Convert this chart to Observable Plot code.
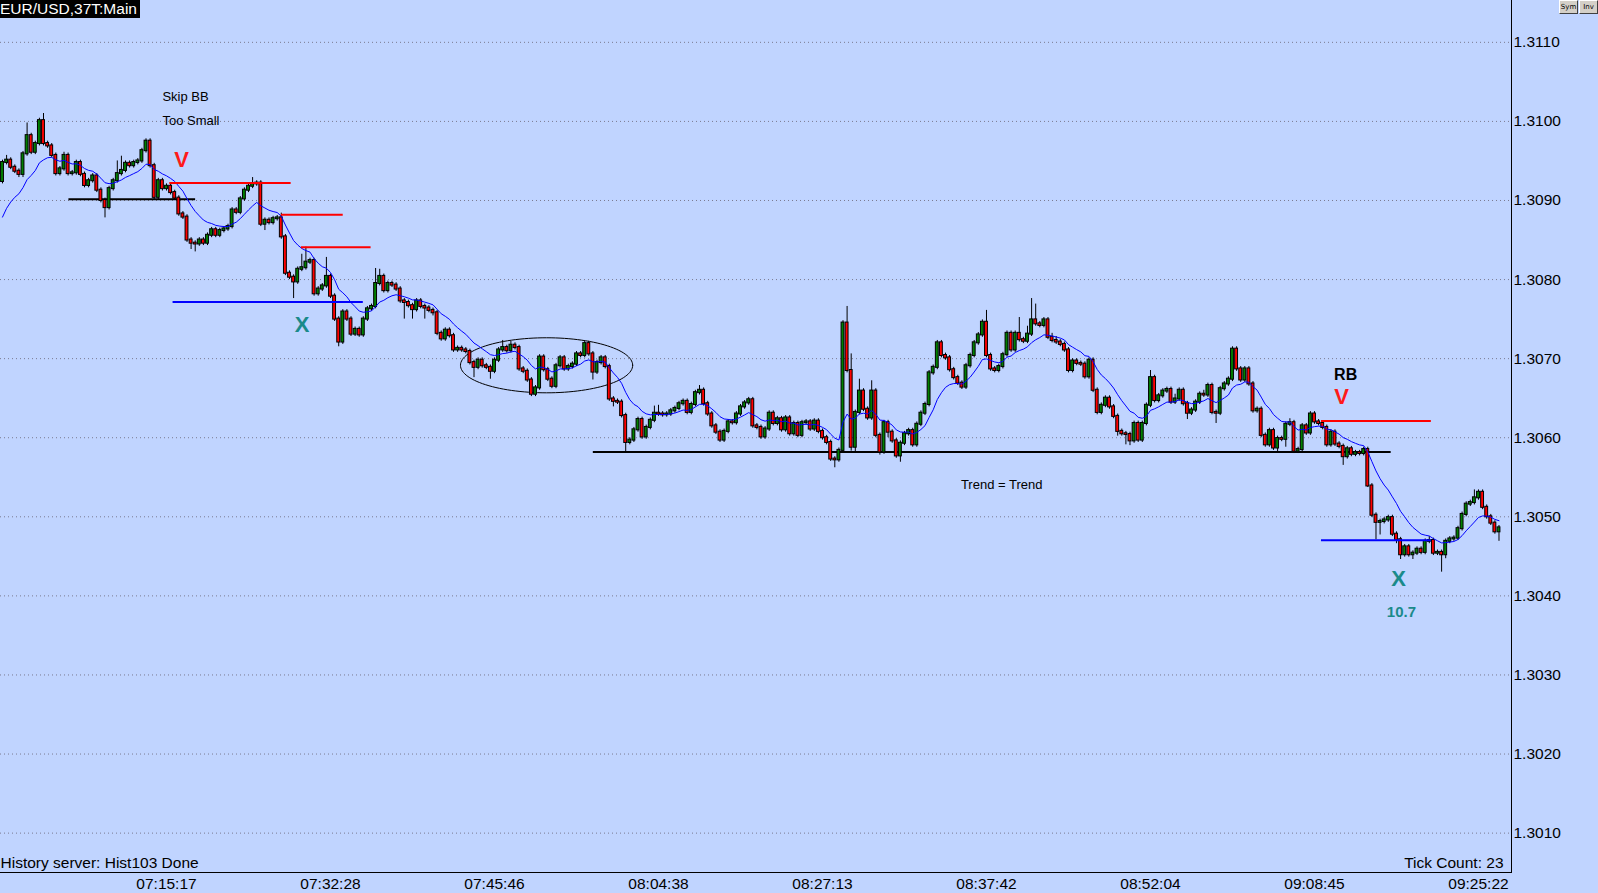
<!DOCTYPE html>
<html>
<head>
<meta charset="utf-8">
<script src="https://cdn.jsdelivr.net/npm/d3@7"></script>
<script src="https://cdn.jsdelivr.net/npm/@observablehq/plot@0.6"></script>
<style>
  html, body { margin: 0; padding: 0; background: #c0d4ff; overflow: hidden; }
  #wrap { position: relative; width: 1598px; height: 893px; }
  #chart svg { display: block; }
  #title { position: absolute; left: 0; top: 0; background: #000; color: #fff;
           font: 15.5px "Liberation Sans", Arial, sans-serif; line-height: 18px; padding: 0 3px 0 0; white-space: nowrap; }
  .btn { position: absolute; top: 0; width: 17px; height: 12px; background: #d4d0c8;
         border-top: 1px solid #fff; border-left: 1px solid #fff; border-right: 1px solid #404040; border-bottom: 1px solid #404040;
         font: 7px "DejaVu Sans", sans-serif; line-height: 12px; text-align: center; color: #000; }
</style>
</head>
<body>
<div id="wrap">
  <div id="chart"></div>
  <div id="title">EUR/USD,37T:Main</div>
  <div class="btn" style="left:1559px">Sym</div>
  <div class="btn" style="left:1579px">Inv</div>
</div>
<script>
// ---------------- data (prices stored as pips above 1.3000) ----------------
const base = 1.3;
const pip = 0.0001;
const firstOpen = 92.4;
const closes = [
  94.8,95.1,94.2,93.7,93.3,95.9,98.2,96.1,97.2,100.1,
  97.2,96.9,95.7,93.4,94.0,95.7,93.4,93.5,94.8,93.3,
  91.9,92.5,93.1,91.3,90.0,89.1,91.5,92.5,93.4,93.8,
  94.7,94.4,94.8,95.0,96.3,97.5,94.4,90.4,92.5,91.5,
  91.8,91.0,90.3,88.3,87.9,85.0,84.6,84.5,85.0,84.6,
  85.6,86.3,85.6,86.2,86.4,86.7,88.8,88.5,90.2,91.3,
  91.8,92.1,92.2,87.0,87.5,87.2,87.7,87.8,85.4,80.8,
  80.3,79.7,81.3,81.5,82.2,82.4,78.2,78.8,79.2,80.4,
  77.9,75.0,72.1,75.9,75.0,73.1,73.7,73.0,75.0,76.3,
  76.6,79.5,80.4,78.6,79.5,79.3,78.8,77.3,77.1,76.7,
  76.2,77.3,76.6,76.4,76.1,75.8,73.2,72.5,73.6,72.9,
  71.1,71.3,71.1,70.9,69.5,68.9,69.8,69.1,68.9,68.4,
  69.8,71.1,71.4,71.0,71.7,71.4,68.7,68.4,67.3,65.5,
  66.3,70.2,68.6,67.4,66.5,69.1,70.1,68.7,69.0,69.3,
  70.6,70.4,71.9,70.6,68.3,69.5,70.1,69.0,64.9,64.6,
  64.5,62.8,59.4,59.7,61.0,62.3,60.1,61.3,62.2,63.1,
  63.0,62.9,63.0,63.4,63.7,64.3,64.6,63.2,64.2,65.7,
  66.0,64.3,63.0,61.5,60.7,59.7,60.8,62.0,61.9,63.0,
  63.9,64.4,64.8,61.5,61.3,60.1,61.1,63.1,61.8,62.4,
  61.0,62.5,60.5,61.8,60.3,61.9,62.0,61.1,62.1,60.8,
  60.0,59.4,57.3,57.2,58.4,74.5,68.5,58.8,63.2,65.9,
  63.6,62.5,65.9,60.3,58.2,61.9,60.7,59.6,57.7,59.3,
  60.5,60.9,59.1,61.7,63.1,64.2,68.2,68.9,72.0,70.4,
  70.1,68.6,67.6,66.9,66.4,69.1,70.4,72.0,73.0,74.6,
  70.4,68.7,68.5,69.0,70.5,73.2,71.1,73.2,72.4,72.2,
  73.1,74.9,74.4,74.2,74.9,72.7,72.3,72.1,71.8,71.1,
  68.5,69.7,69.4,69.3,67.7,69.8,66.0,63.2,64.1,65.0,
  63.9,62.7,60.8,60.5,60.4,59.6,61.8,59.7,61.8,64.1,
  67.6,64.7,65.3,65.9,66.1,64.5,64.9,66.0,64.3,63.1,
  63.5,64.5,65.5,65.4,66.6,63.2,63.1,66.2,66.8,67.4,
  71.2,68.7,67.3,68.7,66.8,63.4,63.6,60.3,59.1,60.9,
  58.7,59.9,59.8,61.7,61.9,58.3,58.5,61.5,60.6,63.0,
  62.0,61.8,61.3,59.1,60.7,59.2,58.9,57.6,58.6,57.9,
  58.1,58.0,58.5,53.9,50.2,49.3,49.4,49.6,49.9,47.8,
  47.1,45.2,46.2,45.2,45.4,45.9,45.5,46.9,47.0,45.4,
  45.5,45.2,46.9,47.2,47.3,48.5,50.3,51.6,51.8,52.4,
  53.1,51.2,50.0,49.2,48.1,48.6
];
// shadow lengths above / below the body, in pips
const upperWick = [
  .3,.6,.3,.3,.3,.3,1.6,.3,.3,.3,
  .9,.3,.3,.3,.3,.4,.3,.3,.3,.3,
  .3,.3,.3,.3,.3,.3,.3,.3,1.6,1.8,
  .3,.3,.3,.3,.3,.3,.3,.3,.3,.3,
  .3,.3,.3,.3,.3,.3,.3,.3,.3,.3,
  .3,.3,.3,.3,.3,.3,.3,.3,.3,.3,
  .3,.8,.3,.3,.3,.3,.3,.3,.6,.3,
  .3,.3,.3,1.7,1.9,.3,.3,.3,.3,2.4,
  .3,.3,.3,.3,.3,.3,.3,.3,.3,.3,
  .3,1.9,.9,.3,.3,.3,.3,.3,.3,.3,
  .3,.3,.3,.3,.3,.3,.3,.3,.3,.3,
  .3,.3,.3,.3,.3,.3,.3,.3,.3,.3,
  .3,.3,.9,.3,.5,.3,.3,.3,.3,.3,
  .3,.3,.3,.3,.3,.3,.3,.3,.3,.3,
  .3,.3,.3,.3,.3,.3,.3,.3,.3,.3,
  .3,.3,.3,.3,.3,.3,.3,.3,.3,.9,
  1.0,.3,.3,.3,.3,.3,.3,.3,.3,.3,
  .6,.3,.3,.3,.3,.3,.3,.3,.3,.3,
  .3,.3,.3,.3,.3,.3,.3,.3,.3,.3,
  .3,.3,.3,.3,.3,.3,.3,.3,.3,.3,
  .3,.3,.3,.3,.3,.3,2.1,2.1,.3,1.5,
  .3,.3,1.3,.3,.3,.3,.3,.3,.3,.3,
  .3,.3,.3,.3,.3,.3,.3,.3,.3,.3,
  .3,.3,.3,.3,.3,.3,.3,.3,.3,.3,
  1.5,.3,.3,.3,.3,.3,.3,.3,2.0,.3,
  1.0,2.7,2.0,.3,.3,.3,.5,.5,.3,.3,
  .3,.3,.3,.3,.3,.3,.3,.3,.3,.3,
  .3,.3,.3,.3,.3,.3,.3,.3,.3,.3,
  .9,.3,.3,.3,.3,.3,.6,.3,.3,.3,
  .3,.3,.3,.5,.3,.3,.3,.3,.3,.3,
  .3,.3,.3,.3,.3,.3,.3,.3,.3,.3,
  .3,.3,.3,.3,.5,.3,.3,.3,.3,.3,
  .3,.3,.3,.3,.3,.3,.3,.3,.3,.3,
  .3,.3,.3,.3,.3,.3,.3,.3,.3,.3,
  .3,.3,.3,.3,.3,.3,.3,.3,.5,.3,
  .3,.3,.3,.3,.3,.3,.3,.3,.3,1.0,
  .3,.3,.3,.3,.3,.3
];
const lowerWick = [
  .3,.3,.3,.3,.4,.4,.3,.3,.3,.3,
  .3,.3,.3,.3,.3,.3,.3,.3,.3,.3,
  .3,.3,.3,.3,.3,1.3,.3,.3,.3,.3,
  .3,.3,.3,.3,.3,.3,.3,.3,.3,.3,
  .3,.3,.3,.3,.3,.3,.8,1.0,.3,.3,
  .3,.3,.3,.3,.3,.3,.3,.3,.3,.3,
  .3,.3,.3,.3,.8,.3,.3,.3,.3,.3,
  .3,2.1,.3,.3,.3,.3,.3,.3,.3,.3,
  .3,.3,.6,.3,.3,.3,.3,.3,.3,.3,
  .3,.3,.3,.3,.3,.3,.3,.3,2.1,.3,
  1.2,.3,.3,1.4,.3,.4,.3,.3,.3,.3,
  .3,.3,.3,.3,.3,1.3,.3,.3,.3,1.0,
  .3,.3,.3,.3,.3,.3,.3,.3,.3,.3,
  .3,.3,.3,.3,.3,.3,.3,.3,.3,.3,
  .3,.3,.3,.3,1.0,.3,.3,.3,.3,.7,
  .3,.3,1.2,.3,.3,.3,.3,.3,.3,.3,
  .3,.3,.3,.3,.3,.3,.3,.3,.3,.3,
  .3,.3,.3,.3,.3,.3,.3,.3,.3,.3,
  .3,.3,.3,.3,.3,.3,.3,.3,.3,.3,
  .3,.3,.3,.3,.3,.3,.3,.3,.3,.3,
  .3,.3,.3,1.0,.3,.3,.3,.5,.6,.3,
  .3,.3,.3,.3,.4,.3,.7,.3,.3,.8,
  .3,.3,.3,.3,.3,.3,.3,.3,.3,.3,
  .3,.3,.3,.3,.3,.3,.3,.3,.3,.3,
  .3,.3,.3,.3,.3,.3,.3,.3,.3,.3,
  .3,.3,.3,.3,.3,.3,.3,.3,.3,.3,
  .3,.3,.3,.3,.3,.3,.3,.3,.3,.3,
  .3,.3,.6,.3,1.3,.6,.3,.3,.3,.3,
  .3,.3,.3,.3,.3,.3,.3,.3,.3,.8,
  .3,.3,.3,.3,.3,.3,1.3,.3,.3,.3,
  .3,.3,.3,.3,.3,.3,.3,.3,.3,.3,
  .3,.6,.3,1.0,.3,.3,.3,.3,.3,.3,
  .3,.3,.3,.3,.3,.3,.3,1.1,.3,.3,
  .3,.3,.3,.2,.3,2.2,1.6,.3,.3,.3,
  .5,.6,.3,.3,.6,.3,.3,.3,.3,.3,
  .3,2.2,.5,.3,.3,.3,.3,.3,.3,.3,
  .3,.3,.3,.3,.3,1.2
];
const maSeed = 87.9;     // moving-average value at the first bar
const maPeriod = 12;

const timeTickIndex  = [40, 80, 120, 160, 200, 240, 280, 320, 360];
const timeTickLabels = ["07:15:17","07:32:28","07:45:46","08:04:38","08:27:13","08:37:42","08:52:04","09:08:45","09:25:22"];
const priceTicks = [1.3010,1.3020,1.3030,1.3040,1.3050,1.3060,1.3070,1.3080,1.3090,1.3100,1.3110];

// drawn annotation levels: bar-index span and level in pips
const redLevels   = [{a:40.8,b:70.4,p:92.2},{a:68,b:83.1,p:88.2},{a:72.9,b:89.9,p:84.1},{a:321.7,b:348.5,p:62.1}];
const blueLevels  = [{a:41.6,b:88,p:77.15},{a:321.7,b:348.5,p:47.05}];
const blackLevels = [{a:16.2,b:47.1,p:90.15},{a:144.1,b:338.7,p:58.2}];
const congestion  = {i:132.7, p:69.16, ri:21, rp:3.48};   // ellipse centre and radii

const plainNotes  = [{i:39.0,p:103.15,t:"Skip BB"},{i:39.0,p:100.09,t:"Too Small"}];
const centerNotes = [{i:243.7,p:54.1,t:"Trend = Trend"}];
const redSignals  = [{i:43.7,p:95.16,t:"V"},{i:326.6,p:65.2,t:"V"}];
const tealSignals = [{i:73.1,p:74.2,t:"X"},{i:340.5,p:42.2,t:"X"}];
const tealValues  = [{i:341.2,p:38.0,t:"10.7"}];
const blackTags   = [{i:327.6,p:68.0,t:"RB"}];
const footerLeft  = ["History server: Hist103 Done"];
const footerRight = ["Tick Count: 23"];

// ---------------- build table ----------------
const px = v => base + v * pip;
const alpha = 2 / (maPeriod + 1);
let ma = maSeed;
const candles = closes.map((c, i) => {
  const o = i === 0 ? firstOpen : closes[i - 1];
  if (i > 0) ma = ma + alpha * (c - ma);
  return {
    i, open: px(o), close: px(c),
    high: px(Math.max(o, c) + upperWick[i]),
    low: px(Math.min(o, c) - lowerWick[i]),
    ma: px(ma), up: c >= o
  };
});
const ellipsePts = d3.range(0, 121).map(k => {
  const t = k / 120 * 2 * Math.PI;
  return {x: congestion.i + congestion.ri * Math.cos(t), y: px(congestion.p + congestion.rp * Math.sin(t))};
});
const tickLabel = new Map(timeTickIndex.map((t, k) => [t, timeTickLabels[k]]));

const font = "'Liberation Sans', Arial, sans-serif";
const chart = Plot.plot({
  width: 1598, height: 893,
  marginLeft: 0, marginRight: 87, marginTop: 0, marginBottom: 21,
  style: {background: "#c0d4ff", fontFamily: font, color: "#000", overflow: "visible"},
  x: {domain: [-0.49, 368.05], axis: null},
  y: {domain: [1.300502, 1.311529], axis: null},
  marks: [
    Plot.gridY(priceTicks, {stroke: "#7a7a90", strokeOpacity: 1, strokeDasharray: "1,3"}),
    Plot.axisY(priceTicks, {anchor: "right", tickSize: 0, tickPadding: 2, label: null,
      tickFormat: d => d.toFixed(4), fontSize: 15.5, fill: "#000"}),
    Plot.axisX(timeTickIndex, {anchor: "bottom", tickSize: 0, tickPadding: 5, label: null,
      tickFormat: d => tickLabel.get(d), fontSize: 15.5, fill: "#000"}),
    Plot.frame({anchor: "right", stroke: "#000"}),
    Plot.frame({anchor: "bottom", stroke: "#000"}),
    Plot.line(ellipsePts, {x: "x", y: "y", stroke: "#000", strokeWidth: 1}),
    Plot.ruleY(blackLevels, {y: d => px(d.p), x1: "a", x2: "b", stroke: "#000", strokeWidth: 2}),
    Plot.ruleX(candles, {x: "i", y1: "low", y2: "high", stroke: "#000", strokeWidth: 1}),
    Plot.rect(candles, {x1: d => d.i - 0.35, x2: d => d.i + 0.35, y1: "open", y2: "close",
      fill: d => d.up ? "#008000" : "#ff0000", stroke: "#000", strokeWidth: 1,
      insetTop: -0.5, insetBottom: -0.5}),
    Plot.line(candles, {x: "i", y: "ma", stroke: "#0000ff", strokeWidth: 1}),
    Plot.ruleY(redLevels, {y: d => px(d.p), x1: "a", x2: "b", stroke: "#ff0000", strokeWidth: 2}),
    Plot.ruleY(blueLevels, {y: d => px(d.p), x1: "a", x2: "b", stroke: "#0000ff", strokeWidth: 2}),
    Plot.text(plainNotes, {x: "i", y: d => px(d.p), text: "t", textAnchor: "start", fontSize: 13, fill: "#000"}),
    Plot.text(centerNotes, {x: "i", y: d => px(d.p), text: "t", textAnchor: "middle", fontSize: 13, fill: "#000"}),
    Plot.text(redSignals, {x: "i", y: d => px(d.p), text: "t", fontSize: 22, fontWeight: "bold", fill: "#ff1a1a"}),
    Plot.text(tealSignals, {x: "i", y: d => px(d.p), text: "t", fontSize: 22, fontWeight: "bold", fill: "#1a8a8a"}),
    Plot.text(tealValues, {x: "i", y: d => px(d.p), text: "t", fontSize: 15, fontWeight: "bold", fill: "#1a8a8a"}),
    Plot.text(blackTags, {x: "i", y: d => px(d.p), text: "t", fontSize: 16, fontWeight: "bold", fill: "#000"}),
    Plot.text(footerLeft, {frameAnchor: "bottom-left", textAnchor: "start", lineAnchor: "middle", dy: -9, fontSize: 15.5, fill: "#000"}),
    Plot.text(footerRight, {frameAnchor: "bottom-right", textAnchor: "end", lineAnchor: "middle", dx: -8, dy: -9, fontSize: 15.5, fill: "#000"})
  ]
});
document.getElementById("chart").appendChild(chart);
</script>
</body>
</html>
